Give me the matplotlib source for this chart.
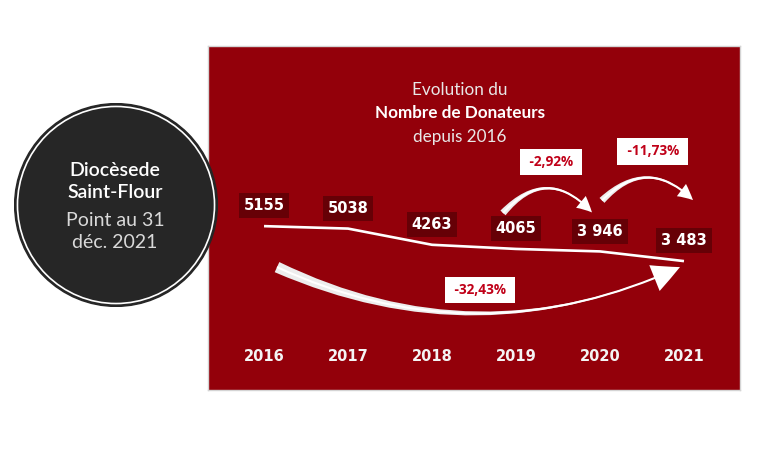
import matplotlib
matplotlib.use("Agg")
import matplotlib.pyplot as plt
from matplotlib.patches import Circle
from matplotlib.transforms import offset_copy, blended_transform_factory

# ---- data ----
years = [2016, 2017, 2018, 2019, 2020, 2021]
donateurs = [5155, 5038, 4263, 4065, 3946, 3483]
value_labels = ["5155", "5038", "4263", "4065", "3 946", "3 483"]
pct_labels = ["-2,92%", "-11,73%", "-32,43%"]
title_lines = ["Evolution du", "Nombre de Donateurs", "depuis 2016"]
circle_lines = ["Diocèsede", "Saint-Flour", "Point au 31", "déc. 2021"]

RED = "#93000A"
BOX = "#660006"
PCT = "#C00018"
FONT = ["Lato", "DejaVu Sans"]

fig = plt.figure(figsize=(7.68, 4.5), dpi=100)
fig.patch.set_facecolor("white")

W, H = 768, 450
ax = fig.add_axes([208 / W, 1 - 390 / H, 532 / W, 344 / H])
ax.set_facecolor(RED)
for s in ax.spines.values():
    s.set_color("#D4D4D4")
    s.set_linewidth(1.0)
ax.set_xticks([])
ax.set_yticks([])
ax.set_xlim(2015.333, 2021.667)
ax.set_ylim(-2681, 13769)

# line
ax.plot(years, donateurs, color="white", lw=1.9, solid_capstyle="butt", zorder=3)

# value labels
for x, v, lab in zip(years, donateurs, value_labels):
    ax.annotate(lab, xy=(x, v), xytext=(0, 14.6), textcoords="offset points",
                ha="center", va="center", color="white", fontsize=10.5,
                fontweight="bold", family="DejaVu Sans", zorder=5,
                bbox=dict(boxstyle="square,pad=0.34", fc=BOX, ec="none"))

# year labels
bt = blended_transform_factory(ax.transData, ax.transAxes)
for x in years:
    ax.text(x, 0.096, str(x), transform=bt, ha="center", va="center",
            color="#F4F4F4", fontsize=10.5, fontweight="bold",
            family="DejaVu Sans")

# title
ax.text(0.474, 0.872, title_lines[0], transform=ax.transAxes, ha="center",
        va="center", color="#E8E8E8", fontsize=12.3, family=FONT)
ax.text(0.474, 0.805, title_lines[1], transform=ax.transAxes, ha="center",
        va="center", color="white", fontsize=12.3, fontweight="bold", family=FONT)
ax.text(0.474, 0.735, title_lines[2], transform=ax.transAxes, ha="center",
        va="center", color="#E8E8E8", fontsize=12.3, family=FONT)


def off(dx, dy):
    # dx, dy in pixels (dy positive = up)
    return offset_copy(ax.transData, fig=fig, x=dx, y=dy, units="dots")


def curved_arrow(i0, i1, d0, d1, rad, tail, head):
    p0 = (years[i0], donateurs[i0])
    p1 = (years[i1], donateurs[i1])
    # tapered tail (wedge)
    ax.annotate("", xy=p1, xycoords=off(*d1), xytext=p0, textcoords=off(*d0),
                arrowprops=dict(arrowstyle=f"wedge,tail_width={tail},shrink_factor=0.35",
                                connectionstyle=f"arc3,rad={rad}",
                                fc="#EDEDED", ec="none", shrinkA=0, shrinkB=head * 0.5),
                zorder=4)
    # head
    ax.annotate("", xy=p1, xycoords=off(*d1), xytext=p0, textcoords=off(*d0),
                arrowprops=dict(arrowstyle=f"simple,head_length={head},head_width={head},tail_width=0.15",
                                connectionstyle=f"arc3,rad={rad}",
                                fc="white", ec="none", shrinkA=0, shrinkB=0),
                zorder=4)


curved_arrow(3, 4, (-13, 36), (-8, 39), -0.55, 0.5, 1.1)
curved_arrow(4, 5, (2, 51), (9, 61), -0.5, 0.5, 1.1)
curved_arrow(0, 5, (13, -41), (-4, -6), 0.23, 0.8, 2.0)

# percentage boxes
pct_anchor = [(3, (35, 87)), (4, (53, 100)), (0, (216, -64))]
for lab, (i, (dx, dy)) in zip(pct_labels, pct_anchor):
    ax.annotate(" " + lab + " ", xy=(years[i], donateurs[i]),
                xytext=(dx * 0.72, dy * 0.72), textcoords="offset points",
                ha="center", va="center", color=PCT, fontsize=9.8,
                fontweight="bold", family=["Open Sans", "DejaVu Sans"], zorder=6,
                bbox=dict(boxstyle="square,pad=0.45", fc="white", ec="none"))

# circle
ax2 = fig.add_axes([14 / W, 1 - 307 / H, 204 / W, 204 / H])
ax2.set_zorder(5)
ax2.set_xlim(0, 1)
ax2.set_ylim(0, 1)
ax2.axis("off")
ax2.patch.set_alpha(0)
ax2.add_patch(Circle((0.5, 0.5), 0.497, fc="#262626", ec="#262626", lw=1))
ax2.add_patch(Circle((0.5, 0.5), 0.483, fc="none", ec="white", lw=1.2))
ys = [(307 - 170) / 204, (307 - 192) / 204, (307 - 220) / 204, (307 - 243) / 204]
cols = ["white", "white", "#D9D9D9", "#D9D9D9"]
for t, y, c in zip(circle_lines, ys, cols):
    ax2.text(0.495, y, t, ha="center", va="center", color=c, fontsize=14,
             family=FONT, fontweight="semibold" if c == "white" else "normal")

fig.savefig("out.png", dpi=100, facecolor="white")
